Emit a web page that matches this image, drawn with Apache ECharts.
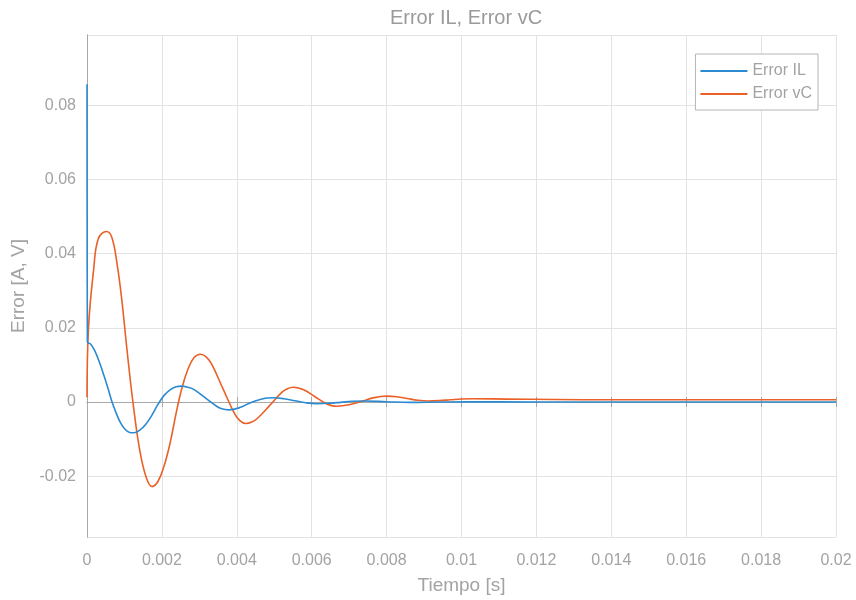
<!DOCTYPE html>
<html>
<head>
<meta charset="utf-8">
<script src="https://cdn.jsdelivr.net/npm/echarts@6/dist/echarts.min.js"></script>
<style>
html,body{margin:0;padding:0;background:#fff;}
#chart{width:856px;height:600px;}
</style>
</head>
<body>
<div id="chart"></div>
<script>
// Error IL: [time (s), value]
var errorIL = [
  [0, 0.0857], [0.00001, 0.0162], [0.0001, 0.0156], [0.0002, 0.0140], [0.00033, 0.0108],
  [0.00045, 0.0072], [0.00056, 0.0037], [0.00066, 0.0003], [0.00078, -0.0030], [0.0009, -0.0057],
  [0.00102, -0.0074], [0.00114, -0.0082], [0.00125, -0.0083], [0.00141, -0.0076], [0.00157, -0.0060],
  [0.00173, -0.0036], [0.00189, -0.0007], [0.00206, 0.0018], [0.00222, 0.0033], [0.00238, 0.0041],
  [0.00254, 0.0043], [0.00269, 0.0040], [0.00285, 0.0034], [0.00316, 0.0011], [0.00347, -0.0012],
  [0.00362, -0.0019], [0.00378, -0.0021], [0.00408, -0.0015], [0.00438, -0.0001], [0.00467, 0.0008],
  [0.00482, 0.0011], [0.00497, 0.00115], [0.00526, 0.0009], [0.00555, 0.00035], [0.00584, -0.0002],
  [0.00613, -0.00045], [0.00645, -0.00034], [0.00677, -0.00008], [0.00708, 0.0002], [0.0074, 0.0003],
  [0.0080, 0.0001], [0.0086, -0.0001], [0.0095, 0.0], [0.011, 0.00005], [0.013, 0.0], [0.016, 0.0],
  [0.02, 0.0]
];
// Error vC: [time (s), value]
var errorVC = [
  [0, 0.0013], [0.00004, 0.0200], [0.00018, 0.0360], [0.0003, 0.0440], [0.00052, 0.0460],
  [0.00066, 0.0445], [0.0008, 0.0375], [0.00093, 0.0275], [0.00107, 0.0139], [0.00122, 0.0005],
  [0.0014, -0.0125], [0.00158, -0.0203], [0.00174, -0.0228], [0.0019, -0.0213], [0.00206, -0.0172],
  [0.00222, -0.0110], [0.00238, -0.0030], [0.00254, 0.0040], [0.0027, 0.0090], [0.00286, 0.0120],
  [0.00303, 0.0129], [0.00318, 0.0122], [0.00333, 0.0102], [0.00363, 0.0036], [0.00394, -0.0031],
  [0.00409, -0.0051], [0.00424, -0.0058], [0.0044, -0.0054], [0.00456, -0.0043], [0.00488, -0.0009],
  [0.0052, 0.0026], [0.00535, 0.0036], [0.00551, 0.0040], [0.0058, 0.00325], [0.00609, 0.00143],
  [0.00638, -0.0004], [0.00653, -0.00096], [0.00667, -0.00115], [0.0070, -0.00075], [0.00734, 0.0002],
  [0.00767, 0.0012], [0.0080, 0.0016], [0.00828, 0.00141], [0.00855, 0.00095], [0.00883, 0.0005],
  [0.0091, 0.0003], [0.0094, 0.00039], [0.0097, 0.0006], [0.0100, 0.00081], [0.0103, 0.0009],
  [0.0112, 0.0008], [0.0125, 0.00068], [0.014, 0.0006], [0.02, 0.0006]
];
var seriesNames = ['Error IL', 'Error vC'];
var titleText = 'Error IL, Error vC';
var xAxisName = 'Tiempo [s]';
var yAxisName = 'Error [A, V]';
var xRange = [0, 0.02];
var xStep = 0.002;
var yRange = [-0.0364, 0.099];

var FONT = '"Liberation Sans", Arial, sans-serif';
var LABEL = '#a3a3a3';
var AXIS = '#a8a8a8';
var GRIDC = '#e3e3e3';
var BLUE = '#2b8ad0';
var ORANGE = '#eb6027';

var chart = echarts.init(document.getElementById('chart'), null, {renderer: 'canvas'});
var xBase = {
  type: 'value', min: xRange[0], max: xRange[1], interval: xStep,
  axisLine: {show: true, lineStyle: {color: AXIS, width: 1}},
  axisTick: {show: true, inside: true, length: 5, lineStyle: {color: AXIS}},
  splitLine: {show: true, lineStyle: {color: GRIDC, width: 1}}
};
var yBase = {
  type: 'value', min: yRange[0], max: yRange[1], splitNumber: 6,
  axisLine: {show: true, lineStyle: {color: AXIS, width: 1}},
  axisTick: {show: false},
  splitLine: {show: true, lineStyle: {color: GRIDC, width: 1}}
};
chart.setOption({
  backgroundColor: '#ffffff',
  animation: false,
  title: {
    text: titleText, left: 461, top: 3, textAlign: 'center',
    textStyle: {fontFamily: FONT, fontSize: 20, fontWeight: 'normal', color: '#9a9a9a'}
  },
  grid: {left: 87, right: 20, top: 35, bottom: 59, containLabel: false},
  legend: {
    orient: 'vertical', right: 38, top: 54,
    data: [{name: seriesNames[0], icon: 'rect'}, {name: seriesNames[1], icon: 'rect'}],
    backgroundColor: '#fff', borderColor: '#b5b5b5', borderWidth: 1, borderRadius: 0,
    padding: [8, 6, 7, 5], itemGap: 5, itemWidth: 47, itemHeight: 2,
    textStyle: {fontFamily: FONT, fontSize: 16, color: LABEL, lineHeight: 18}
  },
  xAxis: [
    Object.assign({}, xBase, {
      position: 'bottom',
      name: xAxisName, nameLocation: 'middle', nameGap: 39,
      nameTextStyle: {fontFamily: FONT, fontSize: 19, color: LABEL},
      axisLabel: {fontFamily: FONT, fontSize: 16, color: LABEL, margin: 16}
    }),
    Object.assign({}, xBase, {position: 'top', axisLabel: {show: false}, splitLine: {show: false}})
  ],
  yAxis: [
    Object.assign({}, yBase, {
      position: 'left',
      name: yAxisName, nameLocation: 'middle', nameGap: 56,
      nameTextStyle: {fontFamily: FONT, fontSize: 19, color: LABEL},
      axisLabel: {fontFamily: FONT, fontSize: 16, color: LABEL, margin: 11, showMinLabel: false, showMaxLabel: false}
    }),
    Object.assign({}, yBase, {position: 'right', axisLabel: {show: false}, splitLine: {show: false}})
  ],
  series: [
    {
      name: seriesNames[0], type: 'line', data: errorIL, smooth: 0.4,
      symbol: 'none', xAxisIndex: 0, yAxisIndex: 0,
      lineStyle: {color: BLUE, width: 1.6}, itemStyle: {color: BLUE}, z: 3
    },
    {
      name: seriesNames[1], type: 'line', data: errorVC, smooth: 0.4,
      symbol: 'none', xAxisIndex: 0, yAxisIndex: 0,
      lineStyle: {color: ORANGE, width: 1.6}, itemStyle: {color: ORANGE}, z: 2
    }
  ]
});
</script>
</body>
</html>
